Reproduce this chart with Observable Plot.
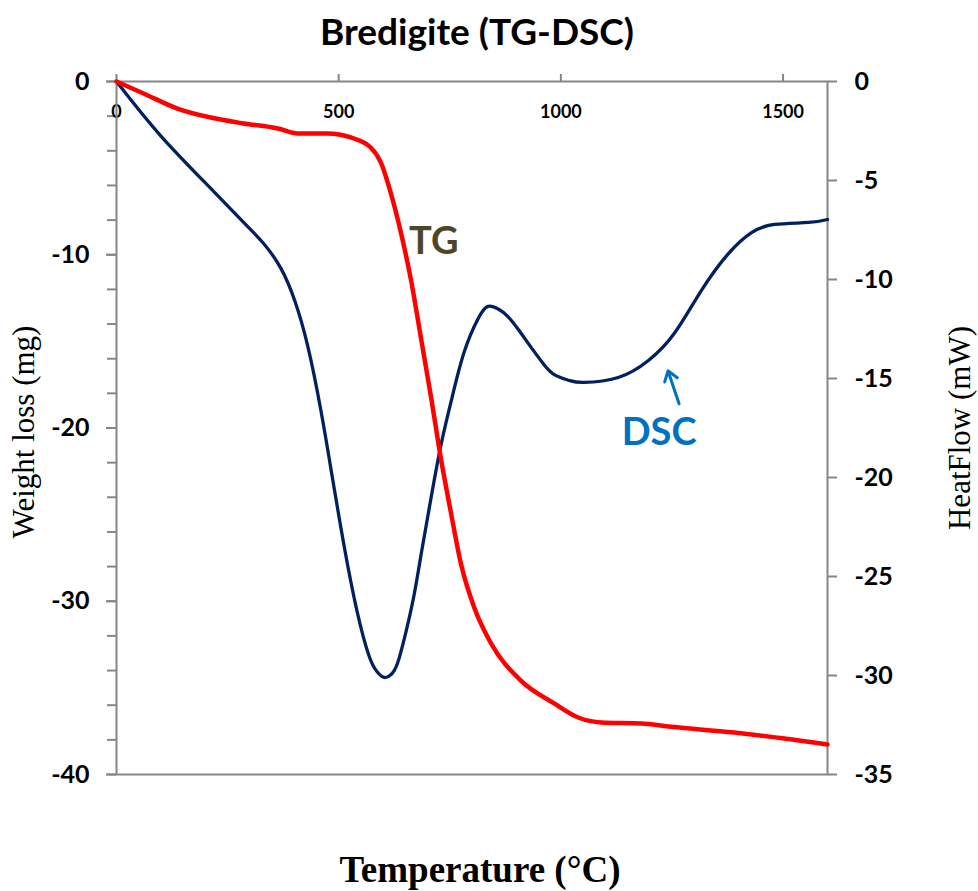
<!DOCTYPE html>
<html>
<head>
<meta charset="utf-8">
<script src="https://cdn.jsdelivr.net/npm/d3@7"></script>
<script src="https://cdn.jsdelivr.net/npm/@observablehq/plot@0.6"></script>
<style>
  html, body { margin: 0; padding: 0; background: #ffffff; }
  #chart svg { display: block; }
</style>
</head>
<body>
<div id="chart"></div>
<script>
// ---- Data ----
const title = "Bredigite (TG-DSC)";
const xTitle = "Temperature (°C)";
const yLeftTitle = "Weight loss (mg)";
const yRightTitle = "HeatFlow (mW)";

// TG curve: temperature (°C) and weight loss (mg)
const tgTemp   = [0, 61, 137, 212, 286, 363, 408, 475, 527, 572, 595, 617, 640, 663, 685, 708, 730, 753, 775, 805, 843, 910, 985, 1039, 1091, 1181, 1242, 1390, 1503, 1600];
const tgWeight = [0, -0.69, -1.56, -2.08, -2.42, -2.71, -3.0, -3.0, -3.23, -3.81, -4.68, -6.41, -8.72, -11.49, -14.78, -18.24, -21.76, -24.94, -27.82, -30.36, -32.44, -34.58, -35.9, -36.71, -37.0, -37.06, -37.23, -37.58, -37.92, -38.27];

// DSC curve: temperature (°C) and heat flow (mW)
const dscTemp = [0, 99, 212, 286, 331, 370, 401, 430, 460, 485, 512, 541, 568, 586, 602, 618, 633, 651, 669, 687, 708, 730, 753, 782, 814, 836, 859, 881, 906, 933, 960, 985, 1019, 1052, 1129, 1197, 1255, 1316, 1377, 1429, 1481, 1557, 1600];
const dscHeat = [0, -2.73, -5.40, -7.12, -8.18, -9.44, -11.06, -13.33, -16.62, -19.90, -23.43, -26.72, -28.99, -29.80, -30.10, -29.95, -29.34, -27.83, -26.01, -23.69, -21.01, -18.38, -16.16, -13.69, -11.97, -11.36, -11.49, -11.87, -12.58, -13.43, -14.24, -14.80, -15.10, -15.20, -14.95, -14.09, -12.73, -10.56, -8.69, -7.63, -7.22, -7.12, -6.97];

// Axis ticks
const xTicks = [0, 500, 1000, 1500];
const yLeftTicks = [0, -10, -20, -30, -40];
const yLeftMinor = [0, -2, -4, -6, -8, -10, -12, -14, -16, -18, -20, -22, -24, -26, -28, -30, -32, -34, -36, -38, -40];
const yRightTicks = [0, -5, -10, -15, -20, -25, -30, -35];

// Annotation labels (data units: x in °C, y in left-axis mg)
const labelNames = ["TG", "DSC"];
const labelTemp  = [714, 1221];
const labelValue = [-9.24, -20.3];
// DSC arrow (tail -> head), in data units
const arrowFrom = [1266, -18.6];
const arrowTo   = [1241, -16.7];

// ---- Build tables ----
const leftMin = -40, rightMin = -35;
const toLeft = v => v * leftMin / rightMin;   // heat-flow -> left axis units
const tg = tgTemp.map((t, i) => ({T: t, w: tgWeight[i]}));
const dsc = dscTemp.map((t, i) => ({T: t, h: dscHeat[i]}));
const labels = labelNames.map((n, i) => ({name: n, T: labelTemp[i], v: labelValue[i]}));
const arrows = [{x1: arrowFrom[0], y1: arrowFrom[1], x2: arrowTo[0], y2: arrowTo[1]}];

const gray = "#868686";
const sans = "Lato, 'Open Sans', sans-serif";
const serif = "'Liberation Serif', 'DejaVu Serif', serif";

const chart = Plot.plot({
  width: 978,
  height: 891,
  marginLeft: 116,
  marginRight: 151,
  marginTop: 81,
  marginBottom: 117,
  style: {fontFamily: sans, background: "#ffffff", color: "#000000"},
  x: {domain: [0, 1600]},
  y: {domain: [leftMin, 0]},
  marks: [
    // minor left ticks
    Plot.axisY(yLeftMinor, {anchor: "left", tickSize: 9, text: null, stroke: gray, strokeWidth: 2, label: null}),
    // major left ticks + labels
    Plot.axisY(yLeftTicks, {anchor: "left", tickSize: 10, tickPadding: 17, stroke: gray, strokeWidth: 2, fill: "#000",
      tickFormat: d => String(d), fontSize: 25, fontWeight: "bold", label: null}),
    // right axis (heat flow)
    Plot.axisY(yRightTicks.map(toLeft), {anchor: "right", tickSize: 9, tickPadding: 18, stroke: gray, strokeWidth: 2, fill: "#000",
      tickFormat: d => String(Math.round(d * rightMin / leftMin)), fontSize: 25, fontWeight: "bold", label: null}),
    // top x axis ticks
    Plot.axisX(xTicks, {anchor: "top", tickSize: 8, text: null, stroke: gray, strokeWidth: 2, label: null}),
    // x tick labels inside the frame, below the top line
    Plot.text(xTicks, {x: d => d, y: () => 0, dy: 31, text: d => String(d), fontSize: 18, fontWeight: "bold", fill: "#000"}),
    Plot.frame({stroke: gray, strokeWidth: 2}),
    // curves
    Plot.line(dsc, {x: "T", y: d => toLeft(d.h), stroke: "#002060", strokeWidth: 3.3, curve: "natural"}),
    Plot.line(tg, {x: "T", y: "w", stroke: "#ff0000", strokeWidth: 4.5, curve: "monotone-x"}),
    // annotations
    Plot.text(labels, {x: "T", y: "v", text: "name", fontSize: 38, fontWeight: "bold",
      fill: d => d.name === "TG" ? "#4f4628" : "#0070c0"}),
    Plot.arrow(arrows, {x1: "x1", y1: "y1", x2: "x2", y2: "y2", stroke: "#0070c0", strokeWidth: 3, headLength: 18, headAngle: 70}),
    // titles
    Plot.text([title], {frameAnchor: "top", dx: 5, dy: -48, textAnchor: "middle", lineAnchor: "middle",
      fontSize: 37, fontWeight: "bold", fill: "#000"}),
    Plot.text([xTitle], {frameAnchor: "bottom", dx: 8, dy: 96, textAnchor: "middle", lineAnchor: "middle",
      fontSize: 37, fontWeight: "bold", fontFamily: serif, fill: "#000"}),
    Plot.text([yLeftTitle], {frameAnchor: "left", dx: -92, dy: 4, rotate: -90, textAnchor: "middle", lineAnchor: "middle",
      fontSize: 31, fontFamily: serif, fill: "#000"}),
    Plot.text([yRightTitle], {frameAnchor: "right", dx: 133, rotate: -90, textAnchor: "middle", lineAnchor: "middle",
      fontSize: 31, fontFamily: serif, fill: "#000"})
  ]
});
document.getElementById("chart").appendChild(chart);
</script>
</body>
</html>
